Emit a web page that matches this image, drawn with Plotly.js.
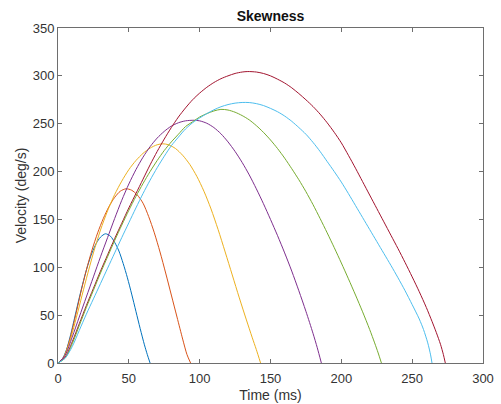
<!DOCTYPE html>
<html>
<head>
<meta charset="utf-8">
<script src="https://cdn.plot.ly/plotly-3.0.1.min.js"></script>
<style>html,body{margin:0;padding:0;background:#fff;}#chart{width:501px;height:404px;}</style>
</head>
<body>
<div id="chart"></div>
<script>
// Time (ms) and velocity (deg/s) samples, one pair per curve
var t1 = [0,3,6,9,12,15,18,21,24,27,30,33.5,37,40,43,46,49,52,55,58,61,63,65];
var v1 = [0,4,14,30,49,68,86,102,115,125,131.5,135,132.5,126,117,104,89,72,54,36,19,9,0];

var t2 = [0,4,8,12,16,20,24,28,32,36,40,44,48,52,56,60,64,68,72,76,80,84,88,91,93.6];
var v2 = [0,6,23,47,73,97,118,136,151,163.5,173,179.5,182,180.5,175.5,167,153,136,116,94,71,48,25,9,0];

var t3 = [0,4,8,12,16,20,25,30,35,40,45,50,55,60,65,70,74,78,83,88,93,98,103,108,113,118,123,128,133,137,140,143];
var v3 = [0,6,21,42,65,88,115,139,159,176,190,202,211.5,219,224.5,228,229,228,224,217,207.5,195,179.5,161,139.5,116,92,68,45,27,14,0];

var t4 = [0,5,10,15,20,25,30,35,40,45,50,55,60,65,70,75,80,85,90,96,100,105,110,115,120,125,130,135,140,145,150,155,160,165,170,175,180,183,185.9];
var v4 = [0,8,27,48,69,90,111,131,151,170,187,202,215,226,235,242,247.5,251,253,253.6,253,250.5,246,239.5,231,221,209.5,196.5,182,166.5,150,133,115,96,75.5,54,31,16,0];

var t5 = [0,5,10,15,20,25,30,35,40,45,50,55,60,65,70,75,80,85,90,95,100,105,110,115,120,125,130,134,140,145,150,155,160,165,170,175,180,185,190,195,200,205,210,215,220,225,230,235,240,245,250,255,260,264,267,270,272,273.4];
var v5 = [0,6,22,41,60,78,96,113,130,146,162,177,192,207,221,234,246,257,266.5,275,282,288,293,297,300,302.5,304,304.5,304,302.5,300,296.5,292.5,287.5,281.5,275,268,260,251,241,230,217,203.5,189.5,175.5,161.5,147.5,133.5,119.5,105,90,74.5,58,43.5,32,19.5,9,0];

var t6 = [0,5,10,15,20,25,30,35,40,45,50,55,60,65,70,75,80,85,90,95,100,105,110,115,120,125,130,135,140,145,150,155,160,165,170,175,180,185,190,195,200,205,210,215,220,223.5,226,228.3];
var v6 = [0,5,20,39,58,76,94,111,128,144,159.5,174,187.5,200,211.5,222,231,239,247,252,257,260.5,263.3,265,264.3,262,258.5,254,248,241,233,224,214,203,191.5,179,165.5,151,136,120.5,104.5,88,71,53.5,35,21,10.5,0];

var t7 = [0,5,10,15,20,25,30,35,40,45,50,55,60,65,70,75,80,85,90,95,100,105,110,115,120,125,130,135,140,145,150,155,160,165,170,175,180,185,190,195,200,205,210,215,220,225,230,235,240,245,250,255,258,261,263,264];
var v7 = [0,5,17,34,51,67,83,99,115,131,146.5,162,177,191,204,216,227,236,244.5,251,256,260.5,264.5,267.7,270,271.5,272.2,272.1,271,269,266,262.5,258,252.5,246,239,230.5,221,210.5,200,189,177,164.5,152,139.5,127,114.5,102,89,75.5,61,46,35,21,8.5,0];

var xTicks = [0,50,100,150,200,250,300];
var yTicks = [0,50,100,150,200,250,300,350];

var series = [[t1,v1],[t2,v2],[t3,v3],[t4,v4],[t5,v5],[t6,v6],[t7,v7]];
var colors = ['#0072BD','#D95319','#EDB120','#7E2F8E','#A2142F','#77AC30','#4DBEEE'];

var traces = series.map(function(s, i){
  return {x: s[0], y: s[1], type: 'scatter', mode: 'lines',
          line: {color: colors[i], width: 1, shape: 'spline', smoothing: 0.8},
          hoverinfo: 'skip', showlegend: false};
});

var axisCommon = {
  showline: true, linecolor: '#6e6e6e', linewidth: 1, mirror: 'allticks',
  ticks: 'inside', ticklen: 4, tickcolor: '#6e6e6e', tickwidth: 1,
  showgrid: false, zeroline: false, fixedrange: true,
  tickfont: {family: 'Liberation Sans, Arial, sans-serif', size: 13, color: '#333333'}
};

var layout = {
  width: 501, height: 404, autosize: false,
  margin: {l: 58, r: 18, t: 28, b: 41, pad: 0},
  paper_bgcolor: '#ffffff', plot_bgcolor: '#ffffff',
  font: {family: 'Liberation Sans, Arial, sans-serif', color: '#262626'},
  title: {text: 'Skewness', x: 0.54, xref: 'container', xanchor: 'center',
          y: 0.96, yref: 'container', yanchor: 'middle',
          font: {size: 14, weight: 'bold', color: '#111111'}},
  xaxis: Object.assign({}, axisCommon, {
    range: [0, 300], tickvals: xTicks, ticktext: xTicks.map(String),
    ticklabelstandoff: 3,
    title: {text: 'Time (ms)', standoff: 5, font: {size: 14, color: '#333333'}}
  }),
  yaxis: Object.assign({}, axisCommon, {
    range: [0, 350], tickvals: yTicks, ticktext: yTicks.map(String),
    title: {text: 'Velocity (deg/s)', standoff: 2, font: {size: 14, color: '#333333'}}
  })
};

Plotly.newPlot('chart', traces, layout, {displayModeBar: false, staticPlot: true});
</script>
</body>
</html>
